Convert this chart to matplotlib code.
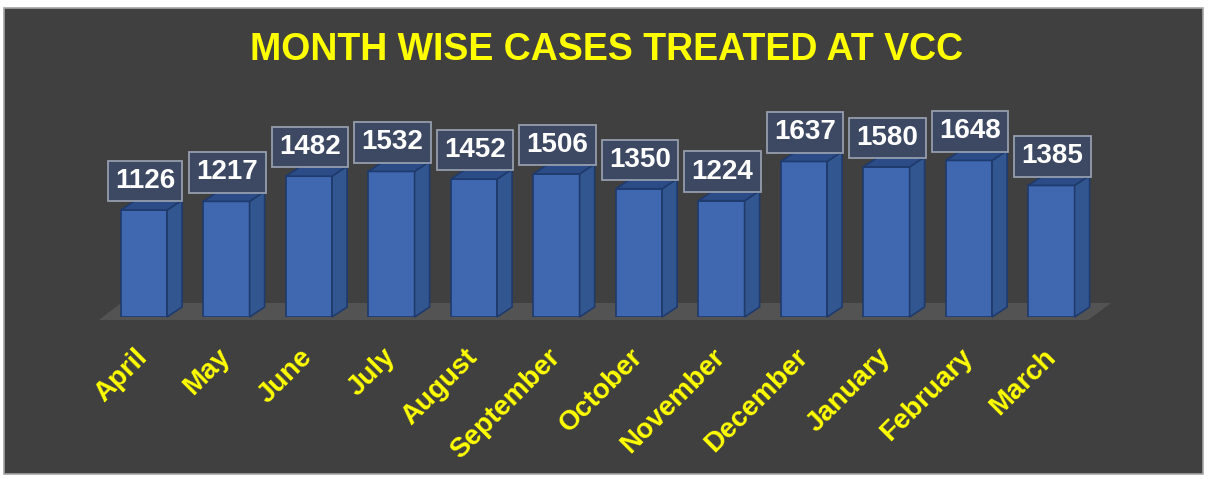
import matplotlib.pyplot as plt
from matplotlib.patches import Polygon, Rectangle

months = ['April', 'May', 'June', 'July', 'August', 'September', 'October',
          'November', 'December', 'January', 'February', 'March']
cases = [1126, 1217, 1482, 1532, 1452, 1506, 1350, 1224, 1637, 1580, 1648, 1385]

W, H = 1208, 479
bg = '#404040'
front_col = '#4068b0'
side_col = '#32568f'
top_col = '#2c4c88'
edge_col = '#1f3a6c'
yellow = '#ffff00'

plt.rcParams['font.family'] = ['Liberation Sans', 'DejaVu Sans']

fig = plt.figure(figsize=(W / 100, H / 100), dpi=100)
fig.patch.set_facecolor('white')
fig.patches.append(Rectangle((4 / W, 5 / H), 1199 / W, 466 / H, transform=fig.transFigure,
                             facecolor=bg, edgecolor='#a6a6a6', linewidth=1.2, zorder=-5))

ax_l, ax_b, ax_w, ax_h = 100, 479 - 317, 1010, 190
ax = fig.add_axes([ax_l / W, ax_b / H, ax_w / W, ax_h / H])
ax.patch.set_visible(False)
xmin, xmax = -0.533, 11.709
ymax = 2000
ax.set_xlim(xmin, xmax)
ax.set_ylim(0, ymax)
for s in ax.spines.values():
    s.set_visible(False)
ax.set_yticks([])

# pixel -> data unit sizes
ux = (xmax - xmin) / ax_w
uy = ymax / ax_h
bar_w = 0.56
ddx, ddy = 15 * ux, 10 * uy

# floor slab
fl = [(xmin - 1 * ux, -3 * uy), (xmax - 22 * ux, -3 * uy),
      (xmax + 1 * ux, 14 * uy), (xmin + 21 * ux, 14 * uy)]
ax.add_patch(Polygon(fl, closed=True, facecolor='#535353', edgecolor='none',
                     clip_on=False, zorder=1))

x = list(range(len(months)))
ax.bar(x, cases, width=bar_w, color=front_col, edgecolor=edge_col, linewidth=1.2, zorder=3)
for xi, v in zip(x, cases):
    xl, xr = xi - bar_w / 2, xi + bar_w / 2
    side = [(xr, 0), (xr + ddx, ddy), (xr + ddx, v + ddy), (xr, v)]
    top = [(xl, v), (xr, v), (xr + ddx, v + ddy), (xl + ddx, v + ddy)]
    ax.add_patch(Polygon(side, closed=True, facecolor=side_col, edgecolor=edge_col,
                         linewidth=1.2, clip_on=False, zorder=3))
    ax.add_patch(Polygon(top, closed=True, facecolor=top_col, edgecolor=edge_col,
                         linewidth=1.2, clip_on=False, zorder=3))
    ax.annotate(str(v), (xi, v), xytext=(1, 29), textcoords='offset pixels',
                ha='center', va='center', fontsize=20, fontweight='bold', color='white',
                bbox=dict(boxstyle='square,pad=0.26', facecolor='#3d4a64', alpha=0.95,
                          edgecolor='#9aa2b2', linewidth=1.3), zorder=5, annotation_clip=False)

ax.set_xticks(x, months, rotation=45, ha='right', va='center', rotation_mode='anchor',
              fontsize=20, fontweight='bold', color=yellow)
ax.tick_params(axis='x', length=0, pad=26)

fig.text(607 / W, 1 - 50 / H, 'MONTH WISE CASES TREATED AT VCC', ha='center', va='center',
         fontsize=27, fontweight='bold', color=yellow)

fig.savefig('out.png', dpi=100, facecolor=fig.get_facecolor())
